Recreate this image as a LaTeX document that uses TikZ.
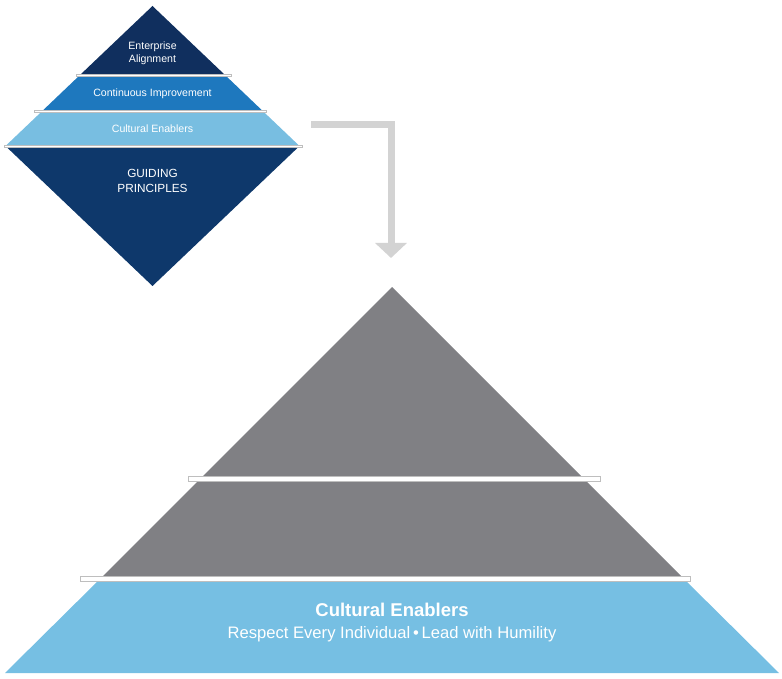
\documentclass[tikz,border=0pt]{standalone}
\usepackage{fontspec}
\setmainfont{Liberation Sans}
\usetikzlibrary{arrows.meta}
\definecolor{navytop}{RGB}{16,47,94}
\definecolor{navybot}{RGB}{14,56,107}
\definecolor{midblue}{RGB}{30,120,190}
\definecolor{lightblue}{RGB}{120,190,225}
\definecolor{pyrgray}{RGB}{128,128,132}
\definecolor{pyrblue}{RGB}{118,191,227}
\definecolor{arrgray}{RGB}{211,211,211}
\definecolor{sepedge}{RGB}{190,190,190}
\tikzset{
  sepbar/.style={fill=white, draw=sepedge, line width=0.5pt},
  smalltxt/.style={text=white, font=\fontsize{10.6}{12.8}\selectfont, align=center, inner sep=0pt},
  gptxt/.style={text=white, font=\fontsize{11.8}{15}\selectfont, align=center, inner sep=0pt},
  bigtitle/.style={text=white, font=\bfseries\fontsize{18.5}{22}\selectfont, inner sep=0pt},
  bigsub/.style={text=white, font=\fontsize{16.6}{19}\selectfont, inner sep=0pt},
  flowarrow/.style={draw=arrgray, line width=7pt, line cap=butt, line join=miter,
    -{Triangle[width=31pt,length=15pt]}}
}
\begin{document}
\begin{tikzpicture}[x=1pt,y=-1pt]
\useasboundingbox (0,0) rectangle (782,679);
% ---------- small diamond ----------
\fill[navytop] (152.5,6) -- (225,75) -- (80,75) -- cycle;
\fill[midblue] (80,75) -- (225,75) -- (262.75,111) -- (42.25,111) -- cycle;
\fill[lightblue] (42.25,111) -- (262.75,111) -- (299.5,146) -- (5.5,146) -- cycle;
\fill[navybot] (5.5,146) -- (299.5,146) -- (152.5,286) -- cycle;
\draw[sepbar] (76,73.8) rectangle (231,76.4);
\draw[sepbar] (34,109.8) rectangle (266,112.4);
\draw[sepbar] (4,144.8) rectangle (302,147.4);
\node[smalltxt] (ea) at (152.5,53) {Enterprise\\Alignment};
\node[smalltxt] (ci) at (152.5,93.5) {Continuous Improvement};
\node[smalltxt] (ce) at (152.5,128.5) {Cultural Enablers};
\node[gptxt] (gp) at (152.5,180.5) {GUIDING\\PRINCIPLES};
% ---------- arrow ----------
\coordinate (arrS) at (311,125);
\coordinate (arrE) at (391,258);
\draw[flowarrow] (arrS) -| (arrE);
% ---------- big pyramid ----------
\fill[pyrgray] (392,287) -- (584,479) -- (200,479) -- cycle;
\fill[pyrgray] (200,479) -- (584,479) -- (683,578) -- (101,578) -- cycle;
\fill[pyrblue] (101,578) -- (683,578) -- (779,673) -- (5,673) -- cycle;
\draw[sepbar] (188,476.5) rectangle (600,481.5);
\draw[sepbar] (80,576) rectangle (690,581);
\node[bigtitle] (bt) at (392,610) {Cultural Enablers};
\node[bigsub] (bs) at (392,634.5) {Respect Every Individual\,\textbullet\,Lead with Humility};
\end{tikzpicture}
\end{document}
